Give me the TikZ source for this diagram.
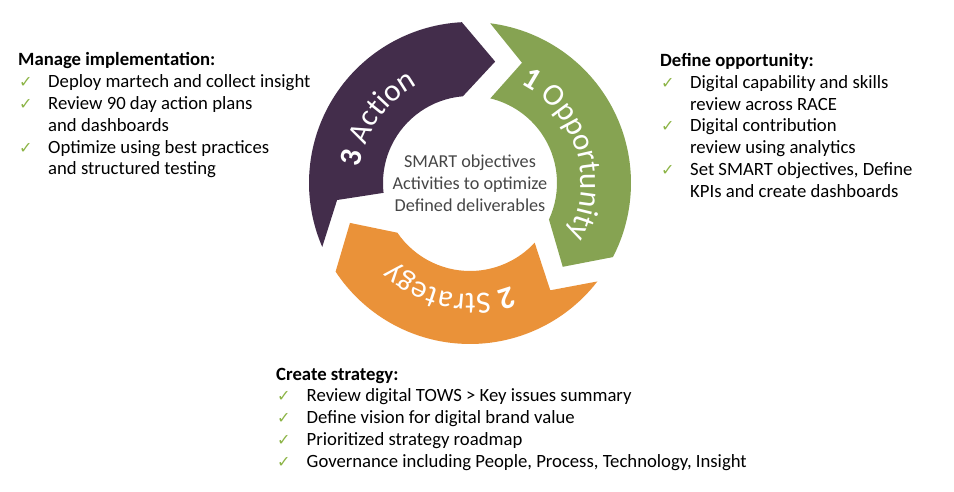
\documentclass[tikz,border=0pt]{standalone}
\usepackage{fontspec}
\setmainfont{Carlito}
\newfontfamily\symfont{DejaVu Sans}
\usetikzlibrary{decorations.text}
\definecolor{actpurple}{RGB}{67,45,75}
\definecolor{oppgreen}{RGB}{134,163,82}
\definecolor{stratorange}{RGB}{234,146,57}
\definecolor{chkgreen}{RGB}{140,180,70}
\definecolor{hubgray}{RGB}{70,70,70}
\newcommand{\chk}{\hspace{1pt}{\symfont\fontsize{16}{16}\selectfont\color{chkgreen}✓}}
\newcommand{\segfont}{\fontsize{31}{37}\selectfont\color{white}}

\begin{document}
\begin{tikzpicture}[x=1pt,y=1pt,
  listbox/.style={anchor=base west,inner sep=0pt,font=\fontsize{18.7}{21.8}\selectfont},
  hubtext/.style={anchor=base,inner sep=0pt,text=hubgray,font=\fontsize{18.2}{21.8}\selectfont},
  seglabel/.style={decorate,decoration={text along path,text align=center,text={#1}}}]
\useasboundingbox (0,0) rectangle (954,491);

% Cycle of arrows
\begin{scope}[shift={(470,308)}]
\coordinate (hub) at (0,0);
\fill[oppgreen] (82.8:161) arc[start angle=82.8,end angle=-27.4,radius=161]
  -- (-42.1:125) -- (-24.8:87) arc[start angle=-24.8,end angle=76.5,radius=87]
  -- (66.6:131) -- cycle;
\fill[stratorange] (-37.7:161) arc[start angle=-37.7,end angle=-146.6,radius=161]
  -- (-161.6:126.5) -- (-145.6:88) arc[start angle=-145.6,end angle=-42.7,radius=88]
  -- (-53.2:134) -- cycle;
\fill[actpurple] (-156.6:161) arc[start angle=-156.6,end angle=-267.1,radius=161]
  -- (78.3:124) -- (94.7:87) arc[start angle=94.7,end angle=186.5,radius=87]
  -- (187.3:134) -- cycle;

% Labels on the arrows
\path[seglabel={|\segfont\bfseries|1 |\segfont|Opportunity}] (80:111) arc[start angle=80,end angle=-45,radius=111];
\path[seglabel={|\segfont\bfseries|2 |\segfont|Strategy}] (-40:111) arc[start angle=-40,end angle=-162,radius=111];
\path[seglabel={|\segfont\bfseries|3 |\segfont|Action}] (205:111) arc[start angle=205,end angle=85,radius=111];
\end{scope}

% Center
\node[hubtext] (goals) at (470,323) {\begin{tabular}[t]{@{}c@{}}SMART objectives\\Activities to optimize\\Defined deliverables\end{tabular}};

% Step lists
\node[listbox] (manage) at (18,425) {\begin{tabular}[t]{@{}p{30pt}@{}l@{}}
\multicolumn{2}{@{}l@{}}{\bfseries Manage implementation:}\\
\chk & Deploy martech and collect insight\\
\chk & Review 90 day action plans\\
 & and dashboards\\
\chk & Optimize using best practices\\
 & and structured testing
\end{tabular}};
\node[listbox] (define) at (660,424.5) {\begin{tabular}[t]{@{}p{30pt}@{}l@{}}
\multicolumn{2}{@{}l@{}}{\bfseries Define opportunity:}\\
\chk & Digital capability and skills\\
 & review across RACE\\
\chk & Digital contribution\\
 & review using analytics\\
\chk & Set SMART objectives, Define\\
 & KPIs and create dashboards
\end{tabular}};
\node[listbox] (create) at (276,111) {\begin{tabular}[t]{@{}p{30.5pt}@{}l@{}}
\multicolumn{2}{@{}l@{}}{\bfseries Create strategy:}\\
\chk & Review digital TOWS > Key issues summary\\
\chk & Define vision for digital brand value\\
\chk & Prioritized strategy roadmap\\
\chk & Governance including People, Process, Technology, Insight
\end{tabular}};
\end{tikzpicture}
\end{document}
